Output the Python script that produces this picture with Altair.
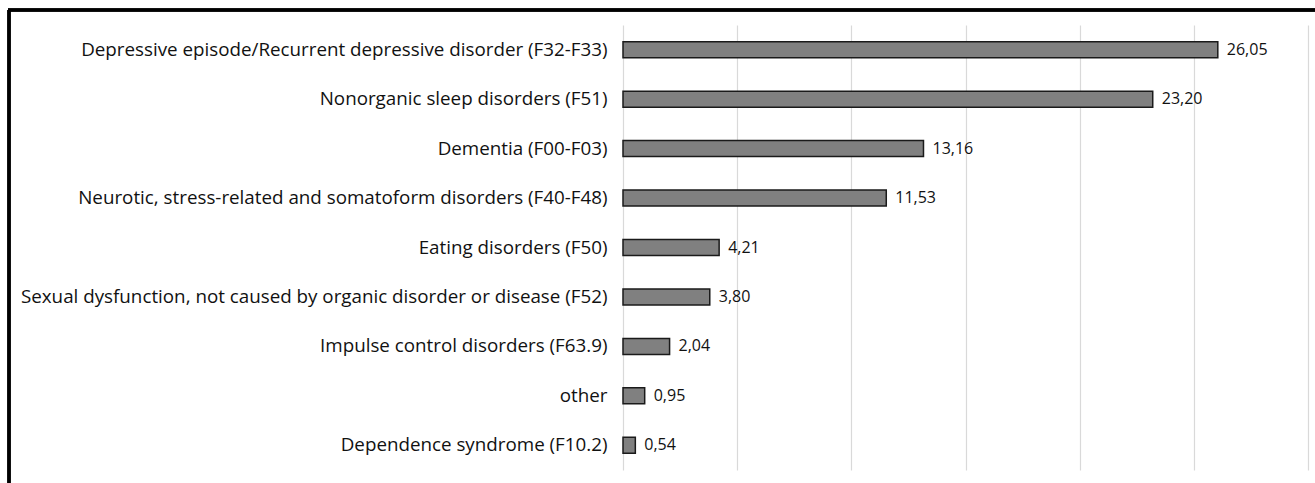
import altair as alt
import pandas as pd

categories = [
    "Depressive episode/Recurrent depressive disorder (F32-F33)",
    "Nonorganic sleep disorders (F51)",
    "Dementia (F00-F03)",
    "Neurotic, stress-related and somatoform disorders (F40-F48)",
    "Eating disorders (F50)",
    "Sexual dysfunction, not caused by organic disorder or disease (F52)",
    "Impulse control disorders (F63.9)",
    "other",
    "Dependence syndrome (F10.2)",
]
values = [26.05, 23.20, 13.16, 11.53, 4.21, 3.80, 2.04, 0.95, 0.54]
grid_ticks = [0, 5, 10, 15, 20, 25, 30]

df = pd.DataFrame({
    "cat": categories,
    "val": values,
    "lab": [f"{v:.2f}".replace(".", ",") for v in values],
})

FONT = "Open Sans"
W, H = 685, 445
PL, PT = 623, 25

x = alt.X("val:Q", scale=alt.Scale(domain=[0, 30], nice=False),
          axis=alt.Axis(values=grid_ticks, grid=True, labels=False, ticks=False,
                        domain=False, title=None, gridColor="#d9d9d9", gridWidth=1.2))
y = alt.Y("cat:N", sort=categories,
          axis=alt.Axis(title=None, ticks=False, domain=False, labelPadding=16,
                        labelLimit=700, labelFontSize=18.8, labelFont=FONT,
                        labelColor="#111111"))

bars = alt.Chart(df).mark_bar(size=16, color="#808080", stroke="#1a1a1a",
                               strokeWidth=1.5).encode(x=x, y=y)
texts = alt.Chart(df).mark_text(align="left", baseline="middle", dx=9, fontSize=16,
                                font=FONT, color="#111111").encode(
    x="val:Q", y=alt.Y("cat:N", sort=categories), text="lab:N")

frame_top = alt.Chart(df).mark_rule(color="black", strokeWidth=2.5).encode(
    x=alt.value(8 - PL), x2=alt.value(1320 - PL), y=alt.value(10 - PT))
frame_left = alt.Chart(df).mark_rule(color="black", strokeWidth=2.5).encode(
    x=alt.value(9 - PL), y=alt.value(10 - PT), y2=alt.value(490 - PT))

chart = alt.layer(bars, texts, frame_top, frame_left).properties(
    width=W, height=H,
    autosize=alt.AutoSizeParams(type="none"),
    padding={"left": PL, "top": PT, "right": 1315 - PL - W, "bottom": 483 - PT - H},
).configure_view(stroke=None)

chart.save("out.html", embed_options={"renderer": "svg", "actions": False})
